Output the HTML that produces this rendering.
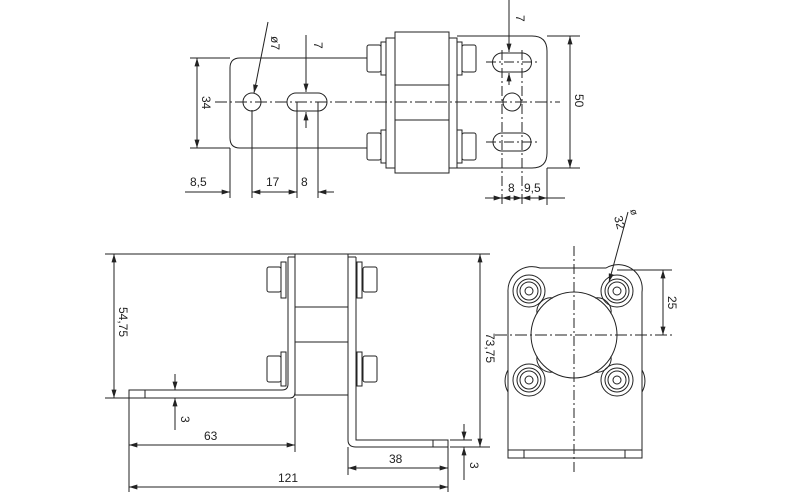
<!DOCTYPE html>
<html><head><meta charset="utf-8"><style>
html,body{margin:0;padding:0;background:#fff;}
svg{display:block;}
text{font-family:"Liberation Sans",sans-serif;font-size:12px;fill:#222;}
</style></head><body>
<svg width="800" height="500" viewBox="0 0 800 500" xmlns="http://www.w3.org/2000/svg">
<defs>
<marker id="a" viewBox="0 0 10 6" refX="10" refY="3" markerWidth="9" markerHeight="5" orient="auto-start-reverse" markerUnits="userSpaceOnUse"><path d="M0,0L10,3L0,6z" fill="#222"/></marker>
</defs>
<g fill="none" stroke="#222" stroke-width="1">
<!-- TOP VIEW -->
<path d="M367,58H240Q230,58 230,68V138Q230,148 240,148H367"/>
<line x1="190" y1="58" x2="230" y2="58"/><line x1="190" y1="148" x2="230" y2="148"/>
<line x1="197" y1="58" x2="197" y2="148" marker-start="url(#a)" marker-end="url(#a)"/>
<line x1="215" y1="102" x2="560" y2="102" stroke-dasharray="12,3,2,3"/>
<circle cx="252" cy="102" r="9"/>
<path d="M296,93H318A9,9 0 0 1 318,111H296A9,9 0 0 1 296,93Z"/>
<rect x="395" y="32" width="54" height="141"/>
<line x1="395" y1="85" x2="449" y2="85"/><line x1="395" y1="120" x2="449" y2="120"/>
<rect x="386" y="38" width="9" height="130"/><rect x="449" y="38" width="8" height="130"/>
<rect x="367" y="45" width="14" height="27" rx="2"/><rect x="381" y="42" width="5" height="33"/>
<rect x="367" y="133" width="14" height="27" rx="2"/><rect x="381" y="130" width="5" height="33"/>
<rect x="462" y="45" width="14" height="27" rx="2"/><rect x="457" y="42" width="5" height="33"/>
<rect x="462" y="133" width="14" height="27" rx="2"/><rect x="457" y="130" width="5" height="33"/>
<path d="M457,36H532Q547,36 547,51V153Q547,168 532,168H457"/>
<path d="M502,53H522A9.5,9.5 0 0 1 522,72H502A9.5,9.5 0 0 1 502,53Z"/>
<path d="M502,133H522A9,9 0 0 1 522,151H502A9,9 0 0 1 502,133Z"/>
<circle cx="512" cy="102" r="9"/>
<line x1="486" y1="62" x2="538" y2="62" stroke-dasharray="10,3,2,3"/>
<line x1="486" y1="142" x2="538" y2="142" stroke-dasharray="10,3,2,3"/>
<line x1="502" y1="50" x2="502" y2="205" stroke-dasharray="10,3,2,3"/>
<line x1="522" y1="50" x2="522" y2="205" stroke-dasharray="10,3,2,3"/>
<line x1="547" y1="168" x2="547" y2="205"/>
<line x1="547" y1="36" x2="580" y2="36"/><line x1="547" y1="168" x2="580" y2="168"/>
<line x1="570" y1="36" x2="570" y2="168" marker-start="url(#a)" marker-end="url(#a)"/>
<line x1="509" y1="0" x2="509" y2="52" marker-end="url(#a)"/>
<line x1="509" y1="85" x2="509" y2="73" marker-end="url(#a)"/>
<line x1="306" y1="35" x2="306" y2="92" marker-end="url(#a)"/>
<line x1="306" y1="128" x2="306" y2="112" marker-end="url(#a)"/>
<line x1="268" y1="22" x2="254" y2="93" marker-end="url(#a)"/>
<line x1="230" y1="148" x2="230" y2="198"/><line x1="252" y1="110" x2="252" y2="198"/>
<line x1="297" y1="102" x2="297" y2="198"/><line x1="318" y1="102" x2="318" y2="198"/>
<line x1="185" y1="192" x2="230" y2="192" marker-end="url(#a)"/>
<line x1="252" y1="192" x2="297" y2="192" marker-start="url(#a)" marker-end="url(#a)"/>
<line x1="334" y1="192" x2="318" y2="192" marker-end="url(#a)"/>
<line x1="485" y1="198" x2="502" y2="198" marker-end="url(#a)"/>
<line x1="502" y1="198" x2="522" y2="198" marker-start="url(#a)" marker-end="url(#a)"/>
<line x1="522" y1="198" x2="547" y2="198" marker-start="url(#a)" marker-end="url(#a)"/>
<line x1="547" y1="198" x2="565" y2="198"/>
<!-- FRONT VIEW -->
<line x1="105" y1="254" x2="490" y2="254"/>
<rect x="295" y="254" width="53" height="141"/>
<line x1="295" y1="307" x2="348" y2="307"/><line x1="295" y1="342" x2="348" y2="342"/>
<path d="M288,257H295M288,257V384Q288,390 282,390H129V398H290Q295,398 295,392"/>
<line x1="145" y1="390" x2="145" y2="398"/>
<path d="M348,257H356M356,257V440H448V447H356Q348,447 348,440V395"/>
<line x1="433" y1="440" x2="433" y2="447"/>
<rect x="267" y="267" width="14" height="25" rx="2"/><rect x="281" y="262" width="5" height="36"/>
<rect x="267" y="356" width="14" height="26" rx="2"/><rect x="281" y="352" width="5" height="34"/>
<rect x="363" y="267" width="14" height="25" rx="2"/><rect x="357" y="262" width="5" height="36"/>
<rect x="363" y="356" width="14" height="26" rx="2"/><rect x="357" y="352" width="5" height="34"/>
<line x1="105" y1="398" x2="129" y2="398"/>
<line x1="114" y1="254" x2="114" y2="398" marker-start="url(#a)" marker-end="url(#a)"/>
<line x1="175" y1="374" x2="175" y2="390" marker-end="url(#a)"/>
<line x1="175" y1="430" x2="175" y2="398" marker-end="url(#a)"/>
<line x1="129" y1="398" x2="129" y2="492"/><line x1="295" y1="398" x2="295" y2="452"/>
<line x1="348" y1="447" x2="348" y2="475"/><line x1="448" y1="447" x2="448" y2="492"/>
<line x1="129" y1="445" x2="295" y2="445" marker-start="url(#a)" marker-end="url(#a)"/>
<line x1="348" y1="468" x2="448" y2="468" marker-start="url(#a)" marker-end="url(#a)"/>
<line x1="129" y1="487" x2="448" y2="487" marker-start="url(#a)" marker-end="url(#a)"/>
<line x1="450" y1="440" x2="472" y2="440"/><line x1="450" y1="447" x2="490" y2="447"/>
<line x1="464" y1="424" x2="464" y2="440" marker-end="url(#a)"/>
<line x1="464" y1="480" x2="464" y2="447" marker-end="url(#a)"/>
<line x1="480" y1="254" x2="480" y2="447" marker-start="url(#a)" marker-end="url(#a)"/>
<!-- SIDE VIEW -->
<path d="M508,458V292A24,24 0 0 1 540,268H606A24,24 0 0 1 642,292V458Z"/>
<line x1="508" y1="450" x2="642" y2="450"/>
<line x1="524" y1="450" x2="524" y2="458"/><line x1="625" y1="450" x2="625" y2="458"/>
<path d="M508,370A22,22 0 0 0 508,392M642,370A22,22 0 0 1 642,392"/>
<circle cx="574" cy="335" r="43"/>
<path d="M537,314A14,14 0 0 1 553,298M595,298A14,14 0 0 1 611,314M611,356A14,14 0 0 1 595,372M553,372A14,14 0 0 1 537,356"/>
<g>
<circle cx="529" cy="291" r="16"/><circle cx="529" cy="291" r="12"/><circle cx="529" cy="291" r="9"/><circle cx="529" cy="291" r="4"/>
<circle cx="617" cy="291" r="16"/><circle cx="617" cy="291" r="12"/><circle cx="617" cy="291" r="9"/><circle cx="617" cy="291" r="4"/>
<circle cx="529" cy="380" r="16"/><circle cx="529" cy="380" r="12"/><circle cx="529" cy="380" r="9"/><circle cx="529" cy="380" r="4"/>
<circle cx="617" cy="380" r="16"/><circle cx="617" cy="380" r="12"/><circle cx="617" cy="380" r="9"/><circle cx="617" cy="380" r="4"/>
</g>
<line x1="574" y1="246" x2="574" y2="472" stroke-dasharray="10,3,2,3"/>
<line x1="495" y1="335" x2="672" y2="335" stroke-dasharray="12,3,2,3"/>
<line x1="617" y1="270" x2="672" y2="270"/>
<line x1="663" y1="270" x2="663" y2="335" marker-start="url(#a)" marker-end="url(#a)"/>
<line x1="628" y1="212" x2="609" y2="282" marker-end="url(#a)"/>
</g>
<g>
<text transform="translate(271,36) rotate(90)">ø7</text>
<text transform="translate(314,42) rotate(90)">7</text>
<text transform="translate(516,15) rotate(90)">7</text>
<text transform="translate(202,96) rotate(90)">34</text>
<text transform="translate(575,94) rotate(90)">50</text>
<text x="190" y="186">8,5</text>
<text x="266" y="186">17</text>
<text x="301" y="186">8</text>
<text x="508" y="192">8</text>
<text x="524" y="192">9,5</text>
<text transform="translate(119,307) rotate(90)">54,75</text>
<text transform="translate(181,416) rotate(90)">3</text>
<text x="204" y="440">63</text>
<text x="389" y="463">38</text>
<text x="278" y="482">121</text>
<text transform="translate(470,462) rotate(90)">3</text>
<text transform="translate(486,333) rotate(90)">73,75</text>
<text transform="translate(668,296) rotate(90)">25</text>
<text transform="translate(614,217) rotate(75)">32</text>
<text transform="translate(630,210) rotate(75)" style="font-size:10px">ø</text>
</g>
</svg>
</body></html>
